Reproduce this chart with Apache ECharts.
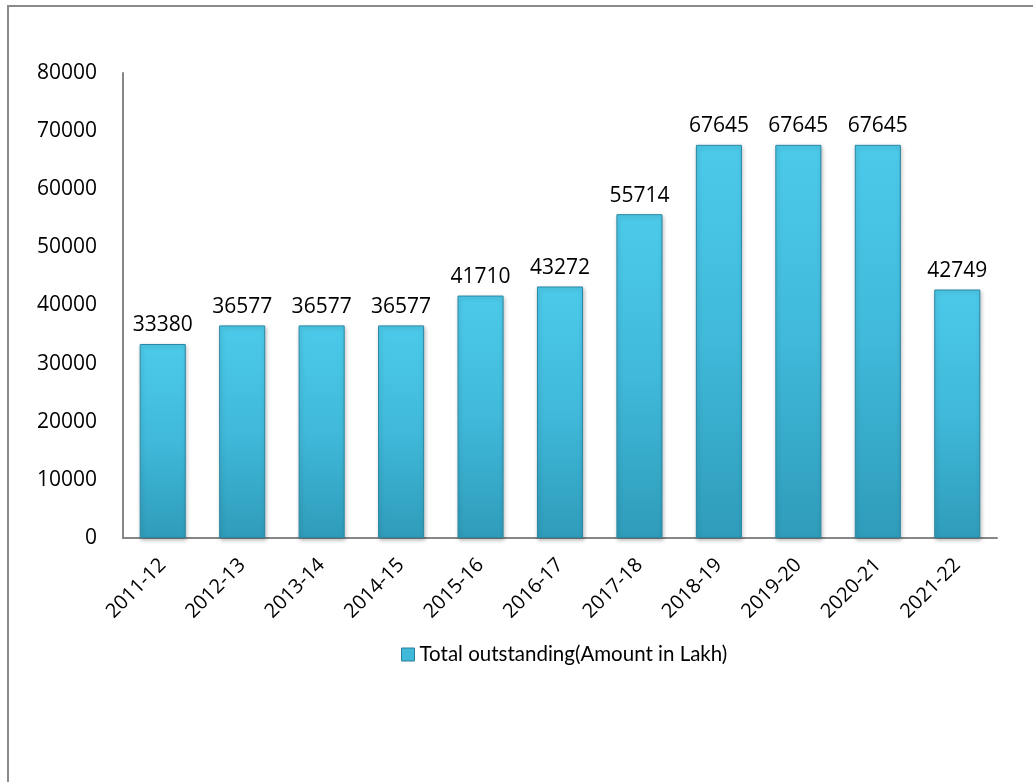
<!DOCTYPE html>
<html>
<head>
<meta charset="utf-8">
<script src="https://cdn.jsdelivr.net/npm/echarts@6/dist/echarts.min.js"></script>
<style>
  html, body { margin: 0; padding: 0; background: #fff; }
  #frame { position: absolute; left: 7px; top: 5px; width: 1026px; height: 777px;
           border-top: 2px solid #8a8a8a; border-left: 2px solid #8a8a8a; }
  #chart { position: absolute; left: 0; top: 0; width: 1033px; height: 782px; }
</style>
</head>
<body>
<div id="frame"></div>
<div id="chart"></div>
<script>
// Fiscal years and outstanding amounts (in Lakh)
const years = ['2011-12', '2012-13', '2013-14', '2014-15', '2015-16', '2016-17',
               '2017-18', '2018-19', '2019-20', '2020-21', '2021-22'];
const outstanding = [33380, 36577, 36577, 36577, 41710, 43272, 55714, 67645, 67645, 67645, 42749];
const seriesName = 'Total outstanding(Amount in Lakh)';

const numFont = '"Open Sans", sans-serif';
const textFont = 'Lato, "Open Sans", sans-serif';
const chart = echarts.init(document.getElementById('chart'));

const barFill = new echarts.graphic.LinearGradient(0, 0, 0, 1, [
  { offset: 0, color: '#4ccaea' },
  { offset: 0.5, color: '#40b9da' },
  { offset: 1, color: '#2f9cba' }
]);

chart.setOption({
  animation: false,
  textStyle: { fontFamily: textFont },
  grid: { left: 123, right: 36, top: 73, bottom: 244 },
  legend: {
    left: 396, top: 639,
    icon: 'rect', itemWidth: 13, itemHeight: 13, itemGap: 3,
    textStyle: { fontFamily: textFont, fontSize: 20.5, color: '#000' },
    data: [{ name: seriesName, itemStyle: { color: '#3fb8d9', borderColor: '#2a7f99', borderWidth: 1 } }]
  },
  xAxis: {
    type: 'category',
    data: years,
    axisLine: { lineStyle: { color: '#868686', width: 2 } },
    axisTick: { show: false },
    axisLabel: { rotate: 45, fontSize: 20, color: '#000', margin: 24, fontFamily: numFont }
  },
  yAxis: {
    type: 'value',
    min: 0, max: 80000, interval: 10000,
    axisLine: { show: true, lineStyle: { color: '#868686', width: 2 } },
    axisTick: { show: false },
    splitLine: { show: false },
    axisLabel: {
      fontSize: 21, color: '#000', margin: 26, fontFamily: numFont,
      formatter: (v) => String(v)
    }
  },
  series: [{
    name: seriesName,
    type: 'bar',
    data: outstanding,
    barWidth: '58%',
    itemStyle: {
      color: barFill,
      borderColor: '#2a87a3',
      borderWidth: 1,
      shadowColor: 'rgba(0,0,0,0.25)',
      shadowBlur: 4,
      shadowOffsetX: 1,
      shadowOffsetY: 2
    },
    label: {
      show: true, position: 'top', distance: 8,
      fontSize: 21, color: '#000', fontFamily: numFont
    }
  }]
});
</script>
</body>
</html>
